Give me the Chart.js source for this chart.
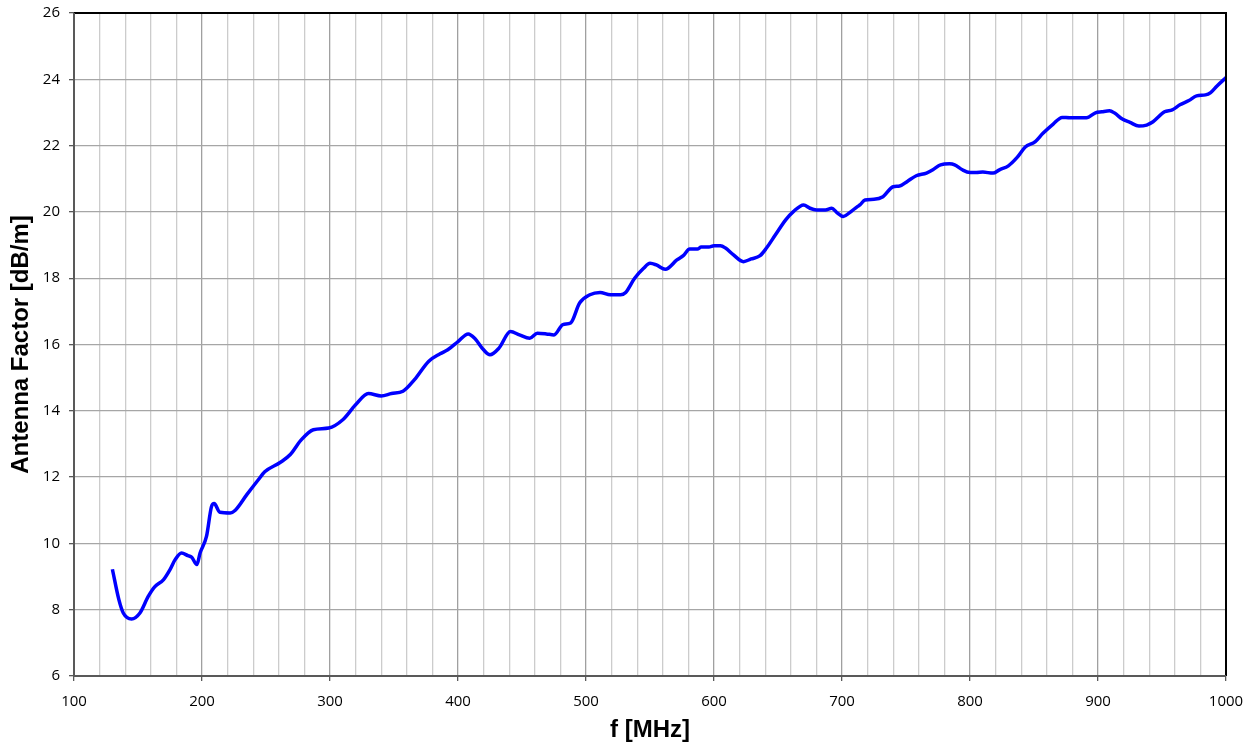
<!DOCTYPE html>
<html>
<head>
<meta charset="utf-8">
<script src="https://cdn.jsdelivr.net/npm/chart.js@4/dist/chart.umd.min.js"></script>
<style>
  html, body { margin: 0; padding: 0; background: #fff; }
  #wrap { width: 1258px; height: 744px; }
</style>
</head>
<body>
<div id="wrap"><canvas id="c" width="1258" height="744"></canvas></div>
<script>
const freqMHz = [130,135,138.5,145,151.5,158,163,170,175,179,184,189,192,196,198.5,203.5,207.5,209.5,214,222,226,235,244,249,261,269,277,287,299,310,320,330,340,348,357,366,377,386,392,400,408,413,420,425,432,441,448,456,462,469,475,482,488,495,503,511,519,527,531,538,545,550,555,562,571,576,581,587,590,596,600,605,609,615,623,629,636,641,648,656,662,670,675,680,687,692,696,701,706,712,714,718,725,732,740,745,751,758,766,771,777,784,788,794,800,805,810,818,823,830,837,843,851,857,865,872,878,886,891,898,903,909,913,919,925,932,938,943,952,958,964,971,977,984,988,993,1000];
const antennaFactor = [9.22,8.31,7.9,7.72,7.9,8.4,8.69,8.91,9.21,9.51,9.71,9.63,9.58,9.36,9.71,10.21,11.12,11.2,10.94,10.92,11.0,11.47,11.92,12.16,12.44,12.68,13.1,13.43,13.48,13.73,14.18,14.52,14.45,14.52,14.59,14.94,15.49,15.72,15.84,16.09,16.32,16.19,15.84,15.69,15.89,16.39,16.29,16.19,16.34,16.32,16.29,16.6,16.65,17.25,17.5,17.57,17.5,17.5,17.57,18.0,18.3,18.45,18.4,18.27,18.55,18.68,18.88,18.88,18.94,18.94,18.98,18.98,18.91,18.71,18.5,18.58,18.68,18.91,19.31,19.76,20.01,20.21,20.11,20.06,20.06,20.11,19.98,19.86,19.98,20.16,20.21,20.36,20.38,20.46,20.76,20.78,20.92,21.09,21.17,21.27,21.42,21.45,21.42,21.27,21.19,21.19,21.2,21.17,21.27,21.39,21.65,21.95,22.12,22.37,22.65,22.85,22.84,22.84,22.84,22.99,23.02,23.05,22.98,22.8,22.7,22.59,22.62,22.72,23.02,23.08,23.23,23.36,23.5,23.53,23.6,23.8,24.05];
const xMin = 100, xMax = 1000, xMinorStep = 20, xMajorStep = 100;
const yMin = 6, yMax = 26, yStep = 2;
const xTitle = 'f [MHz]';
const yTitle = 'Antenna Factor [dB/m]';

const points = freqMHz.map((f, i) => ({ x: f, y: antennaFactor[i] }));

const frame = {
  id: 'frame',
  afterDatasetsDraw(chart) {
    const { ctx, chartArea: a } = chart;
    ctx.save();
    ctx.strokeStyle = '#000';
    ctx.lineWidth = 2;
    ctx.beginPath();
    ctx.moveTo(a.left, a.top);
    ctx.lineTo(a.right, a.top);
    ctx.lineTo(a.right, a.bottom);
    ctx.stroke();
    ctx.strokeStyle = '#595959';
    ctx.beginPath();
    ctx.moveTo(a.left, a.top);
    ctx.lineTo(a.left, a.bottom);
    ctx.lineTo(a.right, a.bottom);
    ctx.stroke();
    ctx.restore();
  }
};

new Chart(document.getElementById('c'), {
  type: 'line',
  data: {
    datasets: [{
      data: points,
      borderColor: '#0000ff',
      borderWidth: 3.5,
      pointRadius: 0,
      fill: false,
      cubicInterpolationMode: 'monotone'
    }]
  },
  options: {
    responsive: false,
    animation: false,
    layout: { padding: { left: 0, right: 32, top: 13, bottom: 0 } },
    plugins: { legend: { display: false }, tooltip: { enabled: false } },
    scales: {
      x: {
        type: 'linear',
        min: xMin, max: xMax,
        afterFit(s) { s.height = 68; s.paddingLeft = 0; s.paddingRight = 0; },
        afterBuildTicks(s) {
          const t = [];
          for (let v = xMin; v <= xMax; v += xMinorStep) t.push({ value: v });
          s.ticks = t;
        },
        ticks: {
          autoSkip: false,
          maxRotation: 0,
          padding: 12,
          color: '#000',
          font: { family: 'Open Sans', size: 15 },
          callback: v => (v % xMajorStep === 0 ? String(v) : '')
        },
        grid: {
          color: c => (c.tick && c.tick.value % xMajorStep === 0 ? '#a0a0a0' : '#cccccc'),
          tickColor: c => (c.tick && c.tick.value % xMajorStep === 0 ? '#595959' : 'rgba(0,0,0,0)'),
          tickLength: 5,
          lineWidth: 1.3
        },
        border: { color: '#595959', width: 2 },
        title: {
          display: true, text: xTitle, color: '#000',
          font: { family: 'Liberation Sans', size: 24, weight: 'bold' },
          padding: { top: 0, bottom: -1 }
        }
      },
      y: {
        type: 'linear',
        min: yMin, max: yMax,
        afterFit(s) { s.width = 74; s.paddingTop = 0; s.paddingBottom = 0; },
        ticks: {
          stepSize: yStep,
          padding: 9,
          color: '#000',
          font: { family: 'Open Sans', size: 15 }
        },
        grid: { color: '#a6a6a6', tickColor: '#595959', tickLength: 5, lineWidth: 1.3 },
        border: { color: '#595959', width: 2 },
        title: {
          display: true, text: yTitle, color: '#000',
          font: { family: 'Liberation Sans', size: 24, weight: 'bold' },
          padding: { top: 7, bottom: 0 }
        }
      }
    }
  },
  plugins: [frame]
});
</script>
</body>
</html>
